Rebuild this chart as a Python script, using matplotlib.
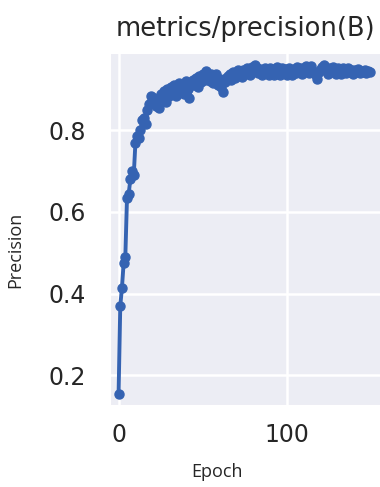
import numpy as np
import matplotlib
matplotlib.use("Agg")
import matplotlib.pyplot as plt
import seaborn as sns

# precision per epoch
precision = [
    0.155, 0.370, 0.415, 0.475, 0.490, 0.635, 0.645, 0.680, 0.700, 0.690,
    0.770, 0.785, 0.780, 0.800, 0.825, 0.830, 0.815, 0.850, 0.865, 0.885,
    0.870, 0.880, 0.860, 0.875, 0.855, 0.890, 0.880, 0.895, 0.870, 0.900,
    0.885, 0.905, 0.890, 0.912, 0.885, 0.905, 0.915, 0.895, 0.912, 0.890,
    0.920, 0.900, 0.880, 0.910, 0.922, 0.910, 0.928, 0.905, 0.932, 0.918,
    0.938, 0.922, 0.944, 0.928, 0.920, 0.938, 0.915, 0.930, 0.938, 0.912,
    0.925, 0.905, 0.893, 0.918, 0.928, 0.932, 0.938, 0.922, 0.942, 0.928,
    0.935, 0.948, 0.938, 0.930, 0.948, 0.938, 0.952, 0.942, 0.935, 0.955,
    0.948, 0.960, 0.952, 0.940, 0.950, 0.935, 0.945, 0.952, 0.940, 0.935,
    0.952, 0.942, 0.935, 0.950, 0.955, 0.940, 0.935, 0.952, 0.942, 0.950,
    0.936, 0.952, 0.942, 0.935, 0.950, 0.940, 0.955, 0.942, 0.952, 0.938,
    0.948, 0.958, 0.950, 0.940, 0.958, 0.948, 0.940, 0.935, 0.926, 0.942,
    0.950, 0.956, 0.960, 0.948, 0.938, 0.952, 0.942, 0.955, 0.945, 0.938,
    0.952, 0.944, 0.938, 0.953, 0.946, 0.940, 0.952, 0.942, 0.948, 0.938,
    0.948, 0.942, 0.950, 0.940, 0.946, 0.942, 0.948, 0.940, 0.944, 0.942,
]
epochs = np.arange(len(precision))

xticks = [0, 100]
yticks = [0.2, 0.4, 0.6, 0.8]

sns.set_style("darkgrid", {"axes.facecolor": "#ECEDF4"})
plt.rcParams['font.family'] = ['DejaVu Sans']

fig = plt.figure(figsize=(3.8, 4.87), dpi=100)
ax = fig.add_axes([0.289, 0.168, 0.713, 0.723])

ax.plot(epochs, precision, color='#3563b2', linewidth=2.8,
        marker='o', markersize=6.5)

ax.set_xlim(-5.2, 155.6)
ax.set_ylim(0.127, 0.989)
ax.set_xticks(xticks)
ax.set_yticks(yticks)
ax.grid(True, color='white', linewidth=1.8)
ax.tick_params(axis='y', labelsize=17, pad=17, length=0, colors='#262626')
ax.tick_params(axis='x', labelsize=17, pad=13, length=0, colors='#262626')

ax.set_title('metrics/precision(B)', fontsize=18.5, pad=12, color='#262626')
ax.set_xlabel('Epoch', fontsize=13, family='Open Sans')
ax.set_ylabel('Precision', fontsize=13, family='Open Sans')
ax.xaxis.set_label_coords(0.395, -0.165)
ax.yaxis.set_label_coords(-0.315, 0.44)

fig.savefig('out.png', dpi=100)
